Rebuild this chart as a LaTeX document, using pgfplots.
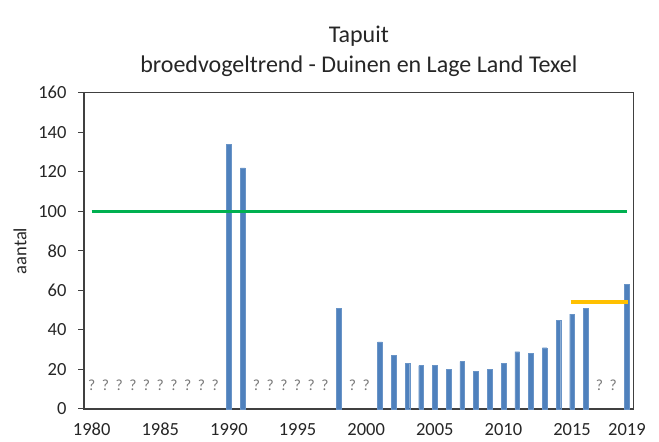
\documentclass[border=0pt]{standalone}
\usepackage{pgfplots}
\pgfplotsset{compat=1.18}
\usepackage{fontspec}
\setmainfont{Carlito}
\definecolor{barblue}{RGB}{79,129,189}
\definecolor{lgreen}{RGB}{0,176,80}
\definecolor{lyellow}{RGB}{255,192,0}
\definecolor{axgray}{RGB}{64,64,64}
\definecolor{txt}{RGB}{38,38,38}
\definecolor{qgray}{RGB}{120,120,120}
\begin{document}
\begin{tikzpicture}
\useasboundingbox (-84pt,-33pt) rectangle (575pt,409pt);
\begin{axis}[
  at={(0pt,0pt)}, anchor=south west,
  scale only axis, width=549.7pt, height=316.3pt,
  xmin=1979.44, xmax=2019.49, ymin=0, ymax=160,
  ytick={0,20,...,160},
  xtick={1980,1985,1990,1995,2000,2005,2010,2015,2019},
  ytick pos=left, xtick pos=bottom,
  /pgf/number format/assume math mode=true,
  /pgf/number format/1000 sep={},
  xtick style={draw=none},
  ytick style={draw=axgray, line width=1pt},
  tick align=outside, major tick length=6pt,
  axis line style={draw=axgray, line width=1.3pt},
  ticklabel style={font=\fontsize{18.5}{22}\selectfont, text=txt},
  yticklabel style={xshift=-8pt},
  xticklabel style={yshift=-6pt, inner sep=2pt},
  ylabel={aantal},
  every axis y label/.style={at={(-64pt,158pt)}, rotate=90, anchor=center, font=\fontsize{18.5}{22}\selectfont, text=txt},
  title style={font=\fontsize{24}{29.4}\selectfont, text=txt, align=center, at={(274.85pt,0pt)}, anchor=south, yshift=323pt},
  title={Tapuit\\broedvogeltrend - Duinen en Lage Land Texel},
  clip=false,
]
\addplot[ybar, bar width=4.7pt, fill=barblue, draw=barblue!85!white, line width=0.3pt] coordinates {
 (1990,134) (1991,122) (1998,51)
 (2001,34) (2002,27) (2003,23) (2004,22) (2005,22) (2006,20) (2007,24)
 (2008,19) (2009,20) (2010,23) (2011,29) (2012,28) (2013,31) (2014,45)
 (2015,48) (2016,51) (2019,63)
};
\addplot[lgreen, line width=2.6pt] coordinates {(1980,100) (2019,100)};
\addplot[lyellow, line width=3.8pt] coordinates {(2014.89,54) (2019.11,54)};
\addplot[draw=none, mark=none, nodes near coords={?},
  nodes near coords style={anchor=center, text=qgray, font=\fontsize{15.5}{18}\selectfont}] coordinates {
 (1980,12) (1981,12) (1982,12) (1983,12) (1984,12) (1985,12) (1986,12) (1987,12) (1988,12) (1989,12)
 (1992,12) (1993,12) (1994,12) (1995,12) (1996,12) (1997,12)
 (1999,12) (2000,12) (2017,12) (2018,12)
};
\end{axis}
\end{tikzpicture}
\end{document}
